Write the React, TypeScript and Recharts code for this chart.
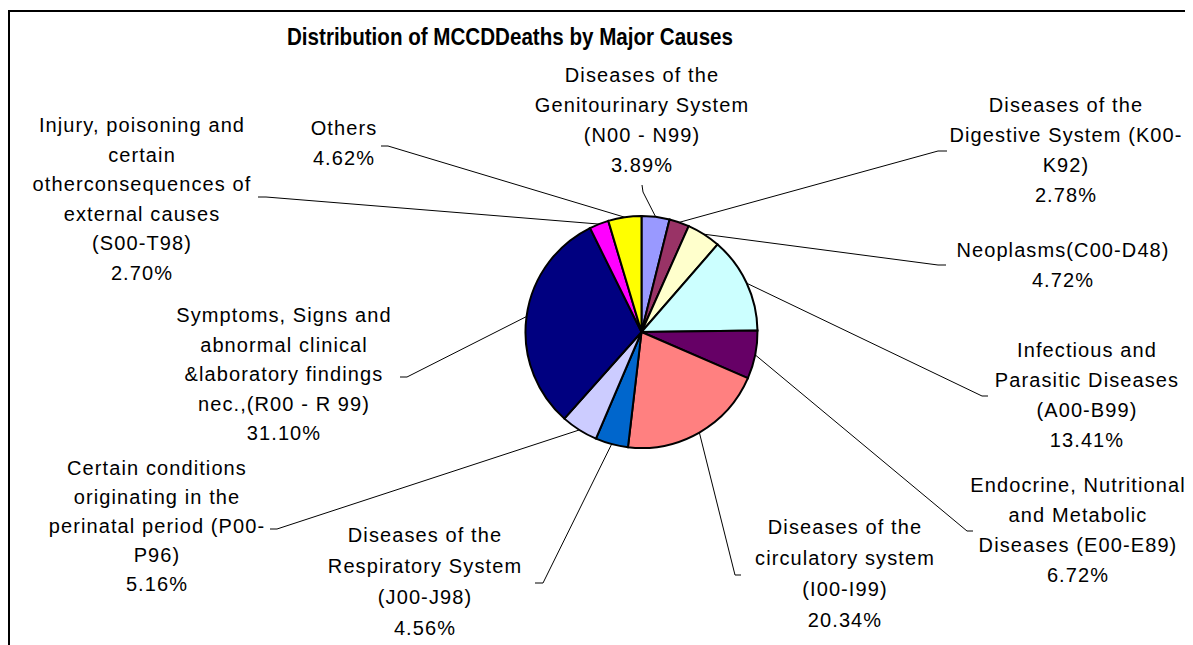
// Pie of MCCD deaths by major cause, with Excel-style leader-line labels.

import { Cell, Pie, PieChart } from "recharts";

const CAUSES = [
  "Genitourinary",
  "Digestive",
  "Neoplasms",
  "Infectious",
  "Endocrine",
  "Circulatory",
  "Respiratory",
  "Perinatal",
  "Symptoms",
  "Injury",
  "Others",
];

const SHARES = [3.89, 2.78, 4.72, 13.41, 6.72, 20.34, 4.56, 5.16, 31.1, 2.7, 4.62];

const LABEL_LINES = [
  ["Diseases of the", "Genitourinary System", "(N00 - N99)"],
  ["Diseases of the", "Digestive System (K00-", "K92)"],
  ["Neoplasms(C00-D48)"],
  ["Infectious and", "Parasitic Diseases", "(A00-B99)"],
  ["Endocrine, Nutritional", "and Metabolic", "Diseases (E00-E89)"],
  ["Diseases of the", "circulatory system", "(I00-I99)"],
  ["Diseases of the", "Respiratory System", "(J00-J98)"],
  ["Certain conditions", "originating in the", "perinatal period (P00-", "P96)"],
  ["Symptoms, Signs and", "abnormal clinical", "&laboratory findings", "nec.,(R00 - R 99)"],
  ["Injury, poisoning and", "certain", "otherconsequences of", "external causes", "(S00-T98)"],
  ["Others"],
];

const COLORS = [
  "#9999FF",
  "#993366",
  "#FFFFCC",
  "#CCFFFF",
  "#660066",
  "#FF8080",
  "#0066CC",
  "#CCCCFF",
  "#000080",
  "#FF00FF",
  "#FFFF00",
];

// label placement (svg coords): text centre x, first-line centre y, line
// height, leader elbow and the short tick that ends at the text
const LABEL_LAYOUT = [
  { x: 634, y: 67, lh: 30, elbow: [635, 184], tick: [634, 177] },
  { x: 1058, y: 97, lh: 30, elbow: [930, 143], tick: [939, 143] },
  { x: 1055, y: 242, lh: 30, elbow: [930, 257], tick: [938, 257] },
  { x: 1079, y: 342, lh: 30, elbow: [974, 388], tick: [980, 388] },
  { x: 1070, y: 477, lh: 30, elbow: [959, 523], tick: [965, 523] },
  { x: 837, y: 519, lh: 31, elbow: [727, 567], tick: [733, 567] },
  { x: 417, y: 527, lh: 31, elbow: [535, 575], tick: [527, 575] },
  { x: 149, y: 460, lh: 29, elbow: [269, 521], tick: [262, 521] },
  { x: 276, y: 307, lh: 29.5, elbow: [399, 369], tick: [392, 369] },
  { x: 134, y: 117, lh: 29.5, elbow: [258, 189], tick: [250, 189] },
  { x: 336, y: 120, lh: 30, elbow: [380, 138], tick: [373, 138] },
];

const RADIAN = Math.PI / 180;
const FONT = "'Liberation Sans', Arial, sans-serif";

const points = CAUSES.map((name, i) => ({ name, value: SHARES[i] }));

function renderLabel(props: any) {
  const { cx, cy, midAngle, outerRadius, index } = props;
  const layout = LABEL_LAYOUT[index];
  const ex = cx + outerRadius * Math.cos(-midAngle * RADIAN);
  const ey = cy + outerRadius * Math.sin(-midAngle * RADIAN);
  const lines = [...LABEL_LINES[index], `${SHARES[index].toFixed(2)}%`];

  return (
    <g key={`label-${index}`}>
      <polyline
        points={`${ex},${ey} ${layout.elbow[0]},${layout.elbow[1]} ${layout.tick[0]},${layout.tick[1]}`}
        fill="none"
        stroke="#000"
        strokeWidth={1}
      />
      <text
        x={layout.x}
        textAnchor="middle"
        fontFamily={FONT}
        fontSize={20}
        letterSpacing={1.1}
        fill="#000"
      >
        {lines.map((line, li) => (
          <tspan key={li} x={layout.x} y={layout.y + li * layout.lh + 7}>
            {line}
          </tspan>
        ))}
      </text>
    </g>
  );
}

export default function App() {
  return (
    <div
      style={{
        position: "relative",
        width: 1185,
        height: 637,
        overflow: "hidden",
        background: "#fff",
      }}
    >
      <div
        style={{
          position: "absolute",
          left: 0,
          top: 2,
          width: 1300,
          height: 800,
          borderLeft: "2px solid #000",
          borderTop: "2px solid #000",
        }}
      />
      <PieChart
        width={1185}
        height={637}
        margin={{ top: 0, right: 0, bottom: 0, left: 0 }}
        style={{ position: "absolute", left: 0, top: 0 }}
      >
        <Pie
          data={points}
          dataKey="value"
          nameKey="name"
          cx={633.5}
          cy={324}
          outerRadius={116}
          startAngle={90}
          endAngle={-270}
          stroke="#000"
          strokeWidth={2}
          label={renderLabel}
          labelLine={false}
          isAnimationActive={false}
        >
          {points.map((point, i) => (
            <Cell key={point.name} fill={COLORS[i]} />
          ))}
        </Pie>
      </PieChart>
      <svg
        width={1185}
        height={60}
        style={{ position: "absolute", left: 0, top: 0, pointerEvents: "none" }}
      >
        <text
          x={502}
          y={37}
          textAnchor="middle"
          fontFamily={FONT}
          fontWeight="bold"
          fontSize={24}
          textLength={446}
          lengthAdjust="spacingAndGlyphs"
          fill="#000"
        >
          Distribution of MCCDDeaths by Major Causes
        </text>
      </svg>
    </div>
  );
}
